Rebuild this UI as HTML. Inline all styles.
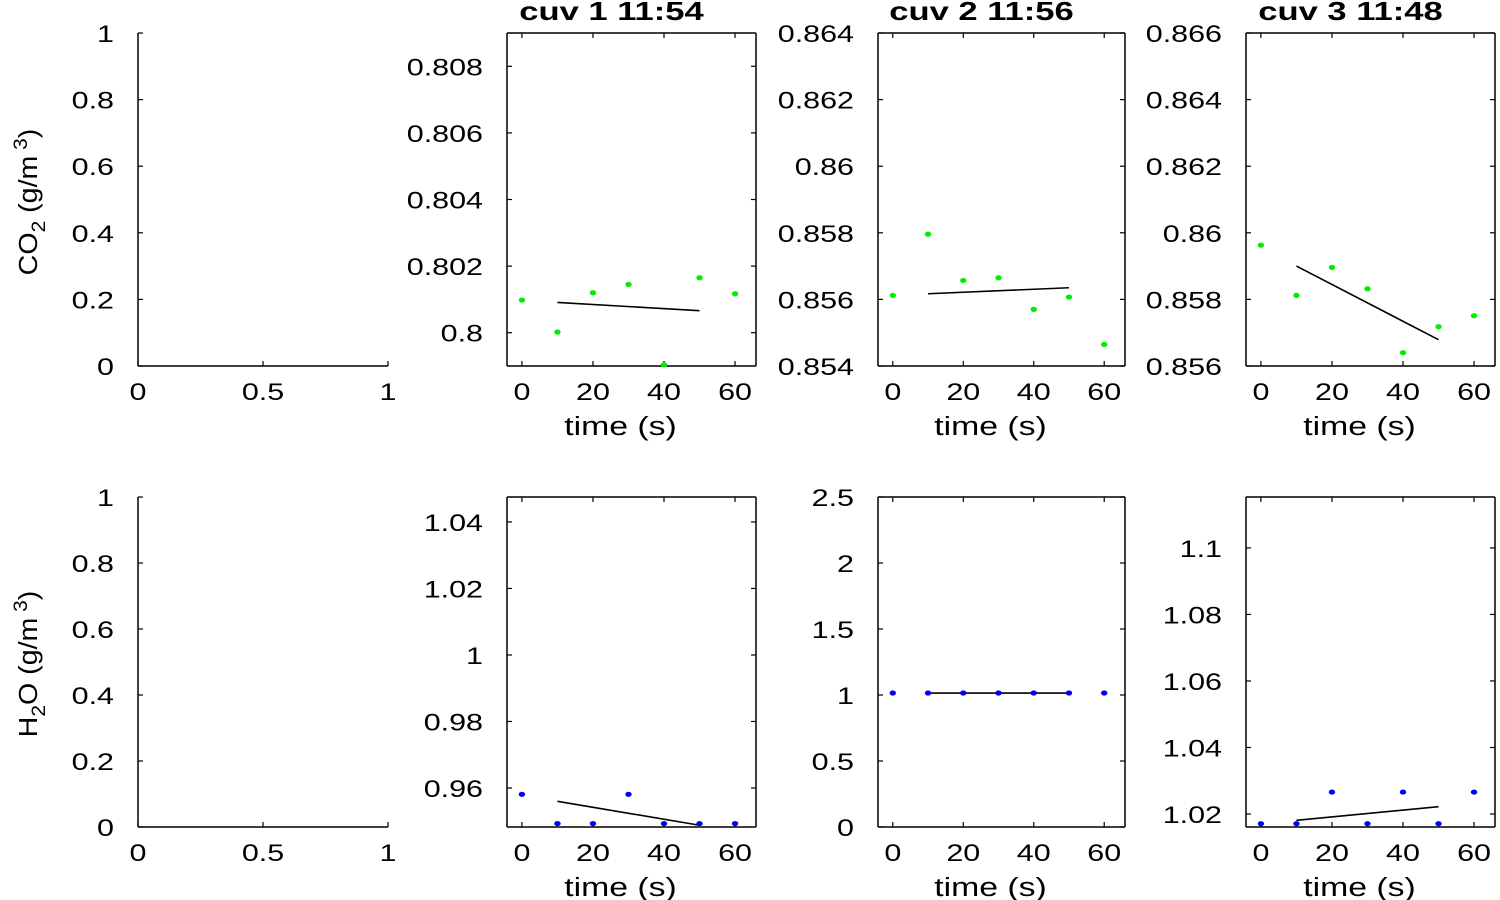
<!DOCTYPE html>
<html><head><meta charset="utf-8"><style>
html,body{margin:0;padding:0;background:#fff;}
svg{display:block;font-family:"Liberation Sans",sans-serif;}
</style></head><body>
<svg id="c" width="1500" height="900" viewBox="0 0 1500 900"></svg>
<script>
const timeX = [0,10,20,30,40,50,60];
const fitX = [10,50];
const co2Cuv1 = [0.80098,0.80002,0.8012,0.80145,0.79904,0.80165,0.80117];
const co2Cuv2 = [0.85612,0.85796,0.85657,0.85665,0.85570,0.85607,0.85465];
const co2Cuv3 = [0.85963,0.85812,0.85896,0.85832,0.85640,0.85718,0.85751];
const co2Fit1 = [0.80091,0.80066];
const co2Fit2 = [0.85617,0.85635];
const co2Fit3 = [0.8590,0.85679];
const h2oCuv1 = [0.9581,0.9493,0.9493,0.9581,0.9493,0.9493,0.9493];
const h2oCuv2 = [1.015,1.015,1.015,1.015,1.015,1.015,1.015];
const h2oCuv3 = [1.0171,1.0171,1.0266,1.0171,1.0266,1.0171,1.0266];
const h2oFit1 = [0.9560,0.9488];
const h2oFit2 = [1.015,1.015];
const h2oFit3 = [1.0181,1.0222];
const titles = ["cuv 1 11:54","cuv 2 11:56","cuv 3 11:48"];
const xTicksTime = [0,20,40,60];
const xTicksEmpty = [0,0.5,1];
const yTicksEmpty = [0,0.2,0.4,0.6,0.8,1];
const yTicksCo2a = [0.8,0.802,0.804,0.806,0.808];
const yTicksCo2b = [0.854,0.856,0.858,0.86,0.862,0.864];
const yTicksCo2c = [0.856,0.858,0.86,0.862,0.864,0.866];
const yTicksH2oa = [0.96,0.98,1,1.02,1.04];
const yTicksH2ob = [0,0.5,1,1.5,2,2.5];
const yTicksH2oc = [1.02,1.04,1.06,1.08,1.1];

const NS="http://www.w3.org/2000/svg";
const svg=document.getElementById('c');
function mk(tag,attrs,parent){const e=document.createElementNS(NS,tag);for(const k in attrs)e.setAttribute(k,attrs[k]);(parent||svg).appendChild(e);return e;}
function txt(s,x,y,anchor,size,parent,weight,sc){const t=mk('text',{x:0,y:0,transform:'translate('+x+','+y+') scale('+(sc||1.27)+',1)','text-anchor':anchor,'font-size':size,fill:'#000'},parent);if(weight)t.setAttribute('font-weight',weight);t.textContent=s;return t;}

const cols=[[138,388],[507,756],[878,1125],[1246,1495]];
const rows=[[33,366],[497,827]];
function panel(name,ci,ri,xr,yr,xt,yt,pts,fit,color,title,xlabel){
  const g=mk('g',{});
  
  
  const [x0,x1]=cols[ci],[y0,y1]=rows[ri];
  const sx=v=>x0+(v-xr[0])/(xr[1]-xr[0])*(x1-x0);
  const sy=v=>y1-(v-yr[0])/(yr[1]-yr[0])*(y1-y0);
  const full=ci>0;
  mk('line',{x1:x0,y1:y1,x2:x1,y2:y1,stroke:'#000','stroke-width':1.5},g);
  mk('line',{x1:x0,y1:y0,x2:x0,y2:y1,stroke:'#000','stroke-width':1.5},g);
  if(full){
    mk('line',{x1:x0,y1:y0,x2:x1,y2:y0,stroke:'#000','stroke-width':1.5},g);
    mk('line',{x1:x1,y1:y0,x2:x1,y2:y1,stroke:'#000','stroke-width':1.5},g);
  }
  xt.forEach(v=>{const x=sx(v);
    mk('line',{x1:x,y1:y1,x2:x,y2:y1-5,stroke:'#000','stroke-width':1.2},g);
    if(full)mk('line',{x1:x,y1:y0,x2:x,y2:y0+5,stroke:'#000','stroke-width':1.2},g);
    const t=txt(String(v),x,y1+34,'middle',24,g);
    
  });
  yt.forEach(v=>{const y=sy(v);
    mk('line',{x1:x0,y1:y,x2:x0+5,y2:y,stroke:'#000','stroke-width':1.2},g);
    if(full)mk('line',{x1:x1,y1:y,x2:x1-5,y2:y,stroke:'#000','stroke-width':1.2},g);
    const t=txt(String(v),x0-24,y+9,'end',24,g);
    
  });
  if(fit){
    const l=mk('line',{x1:sx(fitX[0]),y1:sy(fit[0]),x2:sx(fitX[1]),y2:sy(fit[1]),stroke:'#000','stroke-width':1.6},g);
    
  }
  if(pts)pts.forEach((v,i)=>{
    const c=mk('ellipse',{cx:sx(timeX[i]),cy:sy(v),rx:3.2,ry:2.6,fill:color},g);
    
  });
  if(title){const t=txt(title,(x0+x1)/2-20,y0-13,'middle',26,g,'bold',1.33);
    }
  if(xlabel){const t=txt(xlabel,(x0+x1)/2-11,y1+69,'middle',26,g,null,1.3);
    }
}
const tx=[-4.2,65.9];
panel('co2-empty-axes',0,0,[0,1],[0,1],xTicksEmpty,yTicksEmpty,null,null,null,null,null);
panel('co2-cuv1-panel',1,0,tx,[0.799,0.809],xTicksTime,yTicksCo2a,co2Cuv1,co2Fit1,'#00ee00',titles[0],'time (s)');
panel('co2-cuv2-panel',2,0,tx,[0.854,0.864],xTicksTime,yTicksCo2b,co2Cuv2,co2Fit2,'#00ee00',titles[1],'time (s)');
panel('co2-cuv3-panel',3,0,tx,[0.856,0.866],xTicksTime,yTicksCo2c,co2Cuv3,co2Fit3,'#00ee00',titles[2],'time (s)');
panel('h2o-empty-axes',0,1,[0,1],[0,1],xTicksEmpty,yTicksEmpty,null,null,null,null,null);
panel('h2o-cuv1-panel',1,1,tx,[0.94827,1.0475],xTicksTime,yTicksH2oa,h2oCuv1,h2oFit1,'#0000ee',null,'time (s)');
panel('h2o-cuv2-panel',2,1,tx,[0,2.5],xTicksTime,yTicksH2ob,h2oCuv2,h2oFit2,'#0000ee',null,'time (s)');
panel('h2o-cuv3-panel',3,1,tx,[1.0161,1.1153],xTicksTime,yTicksH2oc,h2oCuv3,h2oFit3,'#0000ee',null,'time (s)');
</script>
<div style="position:absolute;left:0;top:0;width:1500px;height:900px;pointer-events:none;">
<svg width="1500" height="900" style="position:absolute;left:0;top:0;">
<text transform="translate(37,202) rotate(-90) scale(1.1,1)" text-anchor="middle" font-size="26" font-family="Liberation Sans, sans-serif">CO<tspan font-size="19" dy="8">2</tspan><tspan dy="-8"> (g/m</tspan><tspan font-size="19" dy="-10"> 3</tspan><tspan dy="10">)</tspan></text>
<text transform="translate(37,664) rotate(-90) scale(1.1,1)" text-anchor="middle" font-size="26" font-family="Liberation Sans, sans-serif">H<tspan font-size="19" dy="8">2</tspan><tspan dy="-8">O (g/m</tspan><tspan font-size="19" dy="-10"> 3</tspan><tspan dy="10">)</tspan></text>
</svg></div>
</body></html>
